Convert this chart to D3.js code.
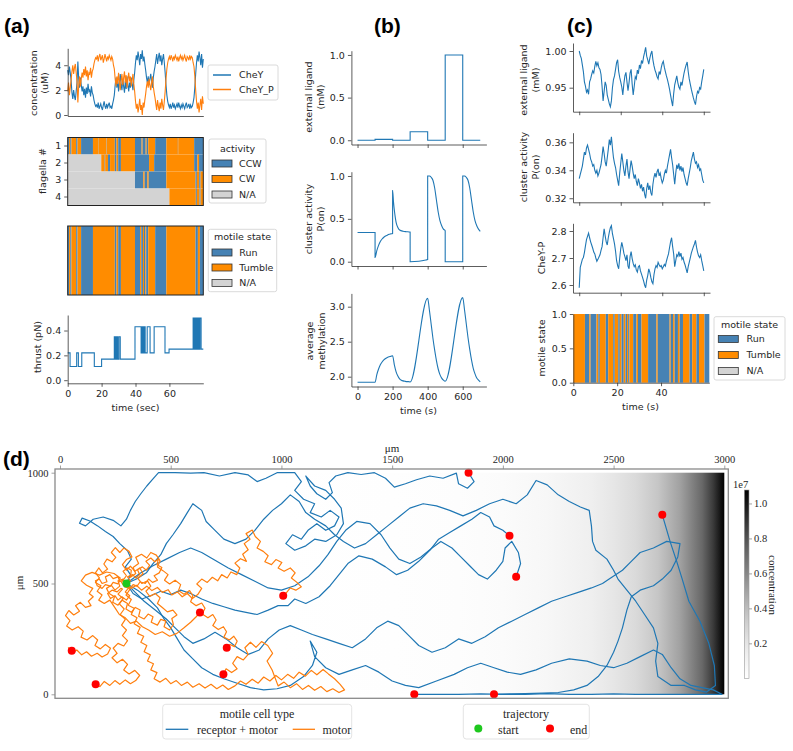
<!DOCTYPE html>
<html><head><meta charset="utf-8">
<script src="https://cdn.jsdelivr.net/npm/d3@7"></script>
<style>body{margin:0;background:#fff;}svg{display:block;}</style>
</head><body>
<svg id="fig" width="793" height="751"></svg>
<script>
// ---------------- DATA ----------------
// (a) concentrations sampled every 0.5 s from 0 to 80 s
const STEP_A = 0.5;
const cheY = [3.6,3.2,3.9,3.4,2.8, 1.8,1.3,2.0,1.5,1.2,1.9, 2.6,4.3,2.9,2.2,3.0,2.4,
 1.9,2.3,1.6,2.1,1.4,2.2,1.7,2.5,1.9,2.0,1.5,2.3,1.8,1.6,
 1.2,0.9,0.7,0.8,0.6,1.0,0.5,0.7,0.9,0.6,0.4,0.8,1.1,0.7,0.5,0.9,0.6,0.8,1.0,0.6,0.7,0.5,0.9,1.2,1.6,
 2.4,3.0,2.2,2.8,1.9,2.6,3.3,2.5,2.0,2.9,2.3,1.8,2.7,2.1,3.1,2.4,1.9,2.6,2.2,3.0,2.5,2.0,2.8,3.4,
 4.2,4.8,4.4,5.1,4.6,4.0,4.9,4.5,5.2,4.3,4.7,4.1,3.6,3.0,
 2.6,3.1,2.4,2.9,3.3,2.7,2.2,3.0,3.5,3.9,
 4.4,4.9,4.1,4.6,5.0,4.3,4.8,4.0,4.5,4.9,4.2,3.4,
 2.4,1.6,1.1,0.8,0.6,0.9,0.5,0.7,1.0,0.6,0.8,0.5,0.7,0.9,0.6,1.0,0.7,0.5,0.8,0.6,0.9,0.7,0.5,0.8,1.0,0.6,0.7,0.9,0.5,0.8,0.6,0.7,1.0,1.4,2.2,
 3.3,4.2,4.8,4.3,5.1,4.6,4.0,4.9,3.8,4.5];
const cheYP = [1.9,2.6,1.6,2.2,2.8, 3.5,4.0,3.3,3.8,4.1,3.4, 2.7,1.0,2.4,3.1,2.3,2.9,
 3.4,3.0,3.7,3.2,3.9,3.1,3.6,2.8,3.4,3.3,3.8,3.0,3.5,3.7,
 4.1,4.4,4.6,4.5,4.8,4.3,4.7,4.9,4.4,4.6,4.8,4.2,4.5,4.9,4.6,4.3,4.7,4.5,4.8,4.6,4.4,4.7,4.5,4.0,3.7,
 2.9,2.3,3.1,2.5,3.4,2.7,2.0,2.8,3.3,2.4,3.0,3.5,2.6,3.2,2.2,2.9,3.4,2.7,3.1,2.3,2.8,3.3,2.5,1.9,
 1.1,0.5,0.9,0.2,0.7,1.3,0.4,0.8,0.0,1.0,0.6,1.2,1.7,2.3,
 2.7,2.2,2.9,2.4,2.0,2.6,3.1,2.3,1.8,1.4,
 0.9,0.4,1.2,0.7,0.3,1.0,0.5,1.3,0.8,0.4,1.1,1.9,
 2.9,3.7,4.2,4.5,4.7,4.4,4.8,4.6,4.3,4.7,4.5,4.8,4.6,4.4,4.7,4.3,4.6,4.8,4.5,4.7,4.4,4.6,4.8,4.5,4.3,4.7,4.6,4.4,4.8,4.5,4.7,4.6,4.2,3.9,3.1,
 2.0,1.1,0.5,1.0,0.2,0.8,1.3,0.4,1.5,0.9];

// (a) flagella activity: [start time, state]
const flagellum1 = [[0,'CCW'],[0.8,'CW'],[1.5,'CCW'],[2.2,'CW'],[5.0,'CCW'],[5.8,'CW'],[7.9,'CCW'],[14.9,'CW'],[17.9,'CCW'],[18.1,'CW'],[22.8,'CCW'],[23.0,'CW'],[27.8,'CCW'],[28.8,'CW'],[29.8,'CCW'],[31.4,'CW'],[39.7,'CCW'],[43.6,'CW'],[44.2,'CCW'],[46.0,'CW'],[46.6,'CCW'],[47.5,'CW'],[51.6,'CCW'],[58.2,'CW'],[65.0,'CCW'],[65.2,'CW'],[74.6,'CCW']];
const flagellum2 = [[0,'N/A'],[19.8,'CW'],[21.8,'CCW'],[22.1,'CW'],[23.8,'CCW'],[25.0,'CW'],[27.8,'CCW'],[28.8,'CW'],[29.8,'CCW'],[31.4,'CW'],[39.7,'CCW'],[48.0,'CW'],[51.0,'CCW'],[58.2,'CW'],[74.6,'CCW'],[76.5,'CW'],[77.5,'CCW']];
const flagellum3 = [[0,'N/A'],[39.7,'CCW'],[44.6,'CW'],[45.4,'CCW'],[47.0,'CW'],[47.8,'CCW'],[58.2,'CW'],[75.4,'CCW'],[76.2,'CW'],[77.6,'CCW'],[78.4,'CW']];
const flagellum4 = [[0,'N/A'],[60.0,'CW'],[75.6,'CCW'],[76.2,'CW'],[77.8,'CCW'],[78.4,'CW']];
const flagellaRows = [1,2,3,4];

// (a) motile state
const motileA = [[0,'Run'],[0.8,'Tumble'],[1.5,'Run'],[2.2,'Tumble'],[5.0,'Run'],[5.8,'Tumble'],[7.9,'Run'],[14.9,'Tumble'],[27.8,'Run'],[28.8,'Tumble'],[29.8,'Run'],[31.4,'Tumble'],[39.7,'Run'],[42.7,'Tumble'],[43.4,'Run'],[44.4,'Tumble'],[45.0,'Run'],[45.8,'Tumble'],[46.3,'Run'],[47.5,'Tumble'],[51.6,'Run'],[58.2,'Tumble'],[75.4,'Run'],[76.8,'Tumble'],[78.0,'Run']];

// (a) thrust step function
const thrustT = [0,1.4,5.3,6.3,8.3,15.7,20.0,27.5,27.9,28.3,28.7,29.1,29.5,30.2,31.0,39.7,43.3,43.6,43.9,44.2,44.5,44.8,45.1,45.4,45.7,46.9,48.6,51.0,57.4,59.8,74.0,74.4,74.8,75.2,75.6,76.0,76.4,76.8,77.2,77.6,78.0,78.7,80];
const thrustV = [0.22,0.11,0.22,0.11,0.22,0.11,0.17,0.35,0.17,0.35,0.17,0.35,0.17,0.35,0.17,0.43,0.22,0.43,0.22,0.43,0.22,0.43,0.22,0.43,0.22,0.43,0.22,0.43,0.22,0.25,0.50,0.25,0.50,0.25,0.50,0.25,0.50,0.25,0.50,0.25,0.50,0.25,0.25];

// (b)
const ligandT = [0,100,200,300,400,500,600,700];
const ligandV = [0,0.01,0,0.1,0,1.0,0,0];
const activityT = [0,100,100,110,120,130,140,150,160,170,180,190,200,200,205,210,215,220,230,240,260,280,300,300,350,390,400,400,410,420,430,440,450,460,470,480,490,500,500,600,600,610,620,630,640,650,660,670,680,690,700];
const activityV = [0.34,0.34,0.05,0.13,0.19,0.235,0.265,0.285,0.30,0.31,0.32,0.325,0.33,0.83,0.70,0.60,0.52,0.46,0.40,0.37,0.355,0.35,0.345,0.0,0.005,0.02,0.025,1.0,1.0,0.985,0.95,0.86,0.72,0.58,0.48,0.42,0.38,0.36,0.0,0.0,1.0,1.0,0.985,0.95,0.86,0.72,0.58,0.48,0.42,0.38,0.355];
const methT = [0,100,110,120,130,140,150,160,170,180,190,200,210,220,230,240,250,260,270,280,290,300,400,410,420,430,440,450,460,470,480,490,500,600,610,620,630,640,650,660,670,680,690,700];
const methV = [1.92,1.92,2.03,2.11,2.17,2.21,2.24,2.26,2.275,2.285,2.29,2.30,2.17,2.07,2.01,1.97,1.95,1.94,1.935,1.93,1.93,1.925,3.12,2.95,2.75,2.55,2.38,2.23,2.11,2.03,1.98,1.95,1.935,3.13,2.96,2.76,2.56,2.39,2.24,2.12,2.04,1.98,1.95,1.925];

// (c) sampled every 0.5 s from 0 to 60 s
const STEP_C = 0.5;
const ligandC = [1.000,0.994,0.990,0.981,0.972,0.958,0.952,0.944,0.947,0.941,0.958,0.962,0.968,0.973,0.970,0.979,0.986,0.980,0.984,0.977,0.975,0.968,0.952,0.932,0.945,0.958,0.953,0.940,0.934,0.928,0.924,0.932,0.950,0.961,0.966,0.975,0.984,0.988,0.972,0.964,0.958,0.951,0.940,0.955,0.966,0.971,0.958,0.946,0.957,0.970,0.975,0.955,0.940,0.952,0.965,0.962,0.974,0.969,0.981,0.976,0.987,0.983,0.992,0.998,1.005,0.993,0.988,0.982,0.990,0.996,1.000,0.988,0.980,0.974,0.970,0.965,0.962,0.972,0.968,0.977,0.983,0.986,0.978,0.972,0.966,0.961,0.955,0.948,0.940,0.932,0.925,0.942,0.954,0.960,0.966,0.957,0.951,0.948,0.958,0.953,0.962,0.970,0.976,0.981,0.985,0.972,0.962,0.955,0.948,0.942,0.936,0.931,0.927,0.938,0.945,0.943,0.950,0.948,0.958,0.966,0.975];
const activityC = [0.334,0.337,0.340,0.343,0.348,0.353,0.351,0.356,0.358,0.355,0.352,0.348,0.346,0.343,0.344,0.340,0.338,0.340,0.336,0.338,0.341,0.344,0.350,0.357,0.352,0.346,0.343,0.349,0.355,0.362,0.358,0.364,0.356,0.349,0.345,0.342,0.337,0.333,0.329,0.338,0.345,0.352,0.346,0.340,0.336,0.343,0.348,0.339,0.334,0.341,0.347,0.343,0.338,0.334,0.337,0.332,0.329,0.334,0.331,0.327,0.330,0.325,0.328,0.323,0.320,0.327,0.331,0.326,0.329,0.324,0.322,0.330,0.335,0.338,0.335,0.339,0.341,0.336,0.338,0.334,0.331,0.333,0.337,0.340,0.338,0.343,0.347,0.351,0.355,0.349,0.344,0.337,0.330,0.338,0.344,0.341,0.345,0.340,0.343,0.339,0.342,0.337,0.334,0.331,0.329,0.334,0.338,0.342,0.347,0.350,0.353,0.348,0.345,0.346,0.342,0.344,0.340,0.341,0.337,0.333,0.331];
const cheYPC = [2.590,2.665,2.680,2.695,2.702,2.720,2.745,2.768,2.780,2.792,2.775,2.760,2.748,2.736,2.722,2.715,2.700,2.688,2.695,2.704,2.712,2.728,2.742,2.775,2.808,2.782,2.760,2.748,2.775,2.796,2.812,2.820,2.790,2.772,2.752,2.725,2.690,2.672,2.660,2.700,2.735,2.758,2.740,2.718,2.705,2.690,2.712,2.670,2.660,2.705,2.724,2.698,2.680,2.668,2.675,2.655,2.648,2.668,2.672,2.652,2.640,2.628,2.615,2.600,2.590,2.618,2.635,2.660,2.648,2.628,2.612,2.605,2.638,2.660,2.672,2.665,2.684,2.675,2.668,2.672,2.660,2.668,2.676,2.670,2.688,2.702,2.715,2.738,2.760,2.775,2.742,2.715,2.668,2.690,2.712,2.706,2.724,2.705,2.718,2.695,2.702,2.685,2.674,2.660,2.645,2.668,2.684,2.700,2.718,2.730,2.742,2.752,2.765,2.740,2.722,2.708,2.702,2.712,2.690,2.672,2.652];
const motileC = [[0,'Tumble'],[5.3,'Run'],[7.3,'Tumble'],[7.9,'Run'],[10.6,'Tumble'],[11.4,'Run'],[12.1,'Tumble'],[14.8,'Run'],[15.9,'Tumble'],[18.2,'Run'],[18.9,'Tumble'],[20.5,'Run'],[21.2,'Tumble'],[22.0,'Run'],[23.0,'Tumble'],[23.8,'Run'],[24.5,'Tumble'],[25.0,'Run'],[25.6,'Tumble'],[27.3,'Run'],[28.8,'Tumble'],[29.5,'Run'],[31.1,'Tumble'],[34.1,'Run'],[37.9,'Tumble'],[38.5,'Run'],[43.9,'Tumble'],[44.4,'Run'],[45.5,'Tumble'],[46.2,'Run'],[47.7,'Tumble'],[48.5,'Run'],[50.0,'Tumble'],[53.0,'Run'],[54.2,'Tumble'],[56.1,'Run'],[57.3,'Tumble'],[59.8,'Run']];

// (d) concentration field along x (µm) in units of 1e7
const fieldX = [0,1000,1500,1800,2000,2200,2400,2500,2600,2700,2800,2900,2950,3000];
const fieldC = [0.0,0.004,0.01,0.02,0.037,0.07,0.13,0.19,0.26,0.36,0.50,0.72,0.88,1.077];
const colorbarTicks = [0.2,0.4,0.6,0.8,1.0];

// (d) trajectories (µm)
const receptorMotor1 = [[300,500],[318,540],[295,575],[322,610],[305,648],[270,680],[240,712],[205,735],[170,760],[135,782],[100,795],[88,772],[115,760],[150,790],[195,800],[240,785],[275,760],[300,790],[318,830],[340,870],[365,905],[392,940],[420,972],[445,1000],[520,1000],[590,998],[650,1000],[720,985],[790,1000],[850,990],[890,960],[930,975],[980,1000],[1060,1000],[1090,960],[1060,920],[1100,880],[1150,860],[1130,820],[1180,800],[1220,830],[1260,800],[1240,760],[1200,740],[1160,770],[1120,740],[1090,700],[1050,720],[1020,680],[1060,650],[1110,670],[1150,700],[1200,690],[1250,720],[1280,770],[1270,840],[1240,880],[1200,920],[1150,940],[1110,985],[1130,940],[1160,905],[1200,880],[1230,910],[1215,955],[1245,985],[1300,1000],[1360,992],[1420,1000],[1470,975],[1510,935],[1560,950],[1610,968],[1670,985],[1730,975],[1790,998],[1800,950],[1840,930],[1870,960],[1845,1000]];
const receptorMotor2 = [[300,500],[345,520],[390,548],[420,590],[455,630],[480,680],[510,720],[545,770],[575,820],[600,860],[640,830],[660,780],[700,740],[740,700],[790,680],[840,700],[880,740],[920,790],[960,830],[1000,860],[1040,900],[1080,870],[1110,820],[1150,790],[1200,760],[1240,720],[1280,690],[1330,660],[1380,680],[1430,720],[1480,760],[1530,800],[1580,840],[1640,860],[1700,850],[1760,830],[1820,805],[1880,830],[1940,860],[2000,880],[2060,860],[2110,900],[2150,965],[2200,945],[2250,900],[2300,870],[2350,845],[2390,830],[2400,760],[2405,690],[2420,650],[2470,610],[2500,560],[2520,520],[2560,470],[2600,420],[2640,360],[2680,300],[2700,230],[2690,150],[2700,80],[2760,40],[2820,40],[2870,20],[2920,10],[2960,40],[2955,130],[2930,230],[2890,330],[2840,420],[2810,520],[2785,600],[2755,690],[2720,810]];
const receptorMotor3 = [[300,500],[350,470],[400,430],[440,390],[470,340],[500,300],[530,250],[560,200],[600,160],[640,120],[690,90],[740,70],[800,50],[860,30],[920,20],[980,25],[1040,40],[1100,80],[1140,130],[1160,190],[1130,240],[1150,170],[1200,120],[1260,90],[1320,110],[1380,130],[1440,100],[1500,60],[1560,40],[1620,30],[1700,60],[1780,90],[1840,120],[1900,140],[1960,120],[2020,100],[2080,90],[2150,110],[2220,140],[2300,160],[2380,150],[2440,130],[2500,120],[2560,140],[2620,170],[2680,200],[2720,180],[2760,120],[2800,70],[2850,40],[2900,30],[2950,20],[2990,0],[2900,0],[2800,0],[2700,0],[2600,0],[2500,2],[2400,0],[2300,0],[2200,3],[2100,0],[2000,0],[1900,2],[1800,0],[1700,0],[1600,0]];
const receptorMotor4 = [[300,500],[330,455],[370,430],[410,445],[455,465],[500,450],[545,470],[590,455],[640,430],[690,410],[740,395],[790,380],[840,370],[890,360],[940,380],[985,400],[1030,400],[1060,430],[1110,410],[1170,440],[1220,490],[1260,540],[1300,590],[1350,625],[1410,610],[1470,575],[1520,540],[1570,560],[1620,600],[1670,650],[1710,700],[1760,730],[1810,760],[1860,790],[1900,820],[1940,800],[1960,760],[2000,740],[2030,715]];
const receptorMotor5 = [[300,500],[360,545],[420,580],[480,610],[540,640],[590,660],[640,640],[700,605],[760,570],[820,540],[880,510],[940,480],[1000,470],[1060,490],[1120,530],[1170,580],[1210,630],[1250,690],[1290,740],[1340,780],[1400,770],[1450,720],[1490,660],[1530,610],[1580,590],[1630,620],[1680,660],[1720,690],[1770,660],[1810,620],[1850,580],[1890,540],[1930,520],[1970,560],[2000,600],[2010,660],[2040,690],[2070,640],[2080,590],[2060,530]];
const receptorMotor6 = [[300,500],[340,460],[380,420],[430,380],[480,340],[520,300],[560,260],[600,230],[650,250],[700,280],[750,250],[800,210],[850,180],[900,200],[940,250],[990,290],[1040,310],[1090,290],[1140,270],[1200,250],[1260,230],[1320,210],[1380,250],[1430,300],[1480,330],[1530,310],[1580,260],[1620,220],[1680,190],[1740,210],[1800,250],[1860,230],[1920,260],[1980,300],[2040,330],[2100,360],[2160,390],[2220,420],[2280,440],[2340,460],[2400,480],[2450,500],[2480,520],[2540,560],[2580,600],[2620,640],[2680,660],[2740,690],[2800,680],[2790,620],[2760,560],[2720,520],[2680,490],[2620,470],[2580,440],[2560,380],[2540,300],[2520,240],[2500,190],[2470,130],[2430,80],[2380,40],[2320,20],[2250,8],[2180,5],[2100,3],[2040,2],[1960,0]];
const motor1 = [[300,500],[322,478],[345,492],[368,470],[392,488],[415,468],[440,482],[462,460],[488,472],[505,448],[530,462],[552,440],[575,455],[598,432],[622,450],[640,478],[618,498],[640,520],[665,505],[688,528],[712,512],[730,540],[755,525],[772,552],[798,540],[812,570],[790,592],[815,612],[842,600],[825,632],[850,652],[832,680],[858,700],[840,725],[868,741],[882,712],[905,690],[890,660],[918,645],[940,625],[925,598],[955,585],[975,608],[1002,595],[985,570],[1012,555],[1040,570],[1062,548],[1045,525],[1070,505],[1090,485],[1065,470],[1040,480],[1022,458],[1008,445]];
const motor2 = [[300,500],[318,512],[305,530],[328,540],[342,525],[360,540],[350,562],[372,575],[390,560],[405,582],[388,600],[410,615],[428,598],[445,612],[438,585],[460,572],[448,548],[425,535],[440,515],[418,505],[400,520],[385,500],[362,508],[348,488],[330,495],[315,478],[292,485],[278,505],[285,520],[262,512],[270,488],[248,470],[232,492],[210,478],[222,455],[246,440],[238,415],[262,402],[280,425],[305,410],[298,385],[322,370],[340,392],[362,380],[355,352],[380,340],[398,362],[420,350],[412,325],[440,312],[455,338],[478,330],[470,305],[495,290],[512,315],[505,342],[528,358],[510,380],[485,372],[462,392],[440,410],[452,436],[430,455],[405,442],[388,465],[410,488],[395,512],[370,500],[352,522],[375,545],[360,570],[338,555],[318,578],[300,560],[282,585],[300,608],[325,620],[312,645],[288,660],[270,640],[250,662],[232,640],[252,618],[235,598],[212,610],[198,588],[215,565],[192,548],[175,570],[160,548],[178,525],[160,505],[185,490],[168,465],[190,448],[175,425],[200,410],[225,425],[250,388],[268,360],[295,345],[318,320],[345,330],[372,305],[400,290],[430,270],[462,282],[495,262],[528,275],[560,300],[590,325],[615,350],[632,369]];
const motor3 = [[300,500],[288,515],[270,508],[262,530],[240,522],[225,540],[205,530],[212,508],[190,500],[178,520],[160,512],[168,490],[190,478],[205,495],[228,488],[240,505],[262,498],[272,525],[244,545],[210,552],[178,538],[145,550],[115,538],[96,512],[120,492],[148,478],[132,455],[150,440],[128,420],[140,400],[115,392],[92,415],[70,400],[88,375],[62,358],[40,378],[25,355],[45,332],[30,308],[55,290],[82,305],[105,285],[95,258],[122,245],[148,265],[170,245],[158,220],[182,205],[205,225],[228,208],[215,182],[190,168],[168,185],[142,172],[120,192],[98,178],[76,200],[55,185],[38,210],[53,196]];
const motor4 = [[300,500],[285,515],[300,535],[285,555],[305,570],[322,560],[318,528],[342,545],[330,572],[355,590],[342,618],[368,632],[392,615],[410,640],[435,628],[452,602],[440,575],[465,558],[488,540],[472,515],[495,498],[520,515],[545,495],[535,468],[560,452],[585,468],[600,445],[590,418],[615,400],[640,412],[655,388],[642,362],[668,345],[690,360],[705,335],[690,310],[715,292],[738,305],[752,282],[740,258],[765,245],[785,262],[800,240],[788,215],[768,225],[753,210]];
const motor5 = [[300,500],[315,472],[298,448],[322,428],[308,402],[335,388],[322,360],[348,345],[335,318],[362,302],[350,275],[378,262],[365,235],[392,220],[380,192],[408,178],[395,150],[422,138],[410,110],[438,98],[425,70],[452,55],[478,72],[500,48],[525,62],[548,40],[575,55],[600,32],[628,48],[655,28],[682,45],[708,25],[735,42],[760,22],[790,38],[815,60],[840,45],[868,68],[895,50],[920,78],[948,60],[975,85],[1000,65],[1028,90],[1055,72],[1080,100],[1108,82],[1135,108],[1160,88],[1188,112],[1212,92],[1240,70],[1265,45],[1285,20],[1260,8],[1232,25],[1205,12],[1178,35],[1150,18],[1122,40],[1095,22],[1068,48],[1040,30],[1012,55],[985,38],[958,110],[935,150],[960,185],[938,220],[910,238],[885,212],[860,235],[835,210],[850,180],[828,155],[800,170],[780,140],[800,115],[775,98],[750,115],[738,90]];
const motor6 = [[300,500],[310,480],[295,462],[315,445],[300,425],[280,440],[262,425],[248,445],[228,432],[215,455],[235,470],[258,462],[275,478],[282,475],[262,452],[285,432],[268,408],[290,385],[272,360],[295,338],[278,312],[300,290],[282,265],[305,242],[288,218],[262,230],[240,208],[258,185],[235,165],[258,142],[282,158],[305,135],[288,110],[312,92],[338,108],[360,85],[342,62],[318,48],[295,65],[270,45],[248,62],[225,40],[200,58],[180,35],[161,45]];
const receptorMotorCells = [receptorMotor1,receptorMotor2,receptorMotor3,receptorMotor4,receptorMotor5,receptorMotor6];
const motorCells = [motor1,motor2,motor3,motor4,motor5,motor6];

// ---------------- STYLE ----------------
const svg = d3.select('#fig');
const SANS = "'DejaVu Sans', sans-serif";
const SERIF = "'Liberation Serif', 'Times New Roman', serif";
const FS = 9.5;
const TXT = '#262626';
const SPINE = '#333';
const C0 = '#1f77b4', C1 = '#ff7f0e';
const stateColor = {CCW:'#4682b4', Run:'#4682b4', CW:'#ff8c00', Tumble:'#ff8c00', 'N/A':'#d3d3d3'};
const LW = 1.1;

function styleAxis(g, font, fs, col) {
  g.attr('font-family', font).attr('font-size', fs);
  g.selectAll('text').attr('fill', TXT);
  g.selectAll('line').attr('stroke', col || SPINE).attr('stroke-width', 0.8);
  g.select('.domain').attr('stroke', col || SPINE).attr('stroke-width', 0.8);
  return g;
}
function label(x, y, txt, o = {}) {
  const t = svg.append('text').attr('x', x).attr('y', y).attr('dy', '0.35em')
    .attr('text-anchor', o.anchor || 'middle').attr('font-family', o.font || SANS)
    .attr('font-size', o.size || FS).attr('fill', o.fill || TXT)
    .attr('font-weight', o.weight || 'normal').text(txt);
  if (o.rot) t.attr('transform', `rotate(${o.rot},${x},${y})`);
  return t;
}
function leftAxis(x, scale, ticks, fmt) {
  const g = svg.append('g').attr('transform', `translate(${x},0)`)
    .call(d3.axisLeft(scale).tickValues(ticks).tickFormat(fmt).tickSize(3.5).tickPadding(3).tickSizeOuter(0));
  return styleAxis(g, SANS, FS);
}
function bottomAxis(y, scale, ticks, fmt) {
  const g = svg.append('g').attr('transform', `translate(0,${y})`)
    .call(d3.axisBottom(scale).tickValues(ticks).tickFormat(fmt).tickSize(3.5).tickPadding(3).tickSizeOuter(0));
  return styleAxis(g, SANS, FS);
}
function segments(list, end) {
  return list.map((d, i) => ({t0: d[0], t1: i < list.length - 1 ? list[i + 1][0] : end, s: d[1]}));
}
function lineLegend(x, y, w, h, items) {
  svg.append('rect').attr('x', x).attr('y', y).attr('width', w).attr('height', h).attr('rx', 2)
    .attr('fill', '#fff').attr('stroke', '#d0d0d0').attr('stroke-width', 0.8);
  items.forEach(it => {
    svg.append('line').attr('x1', x + 5).attr('x2', x + 23).attr('y1', it.y).attr('y2', it.y)
      .attr('stroke', it.c).attr('stroke-width', 1.5);
    label(x + 31, it.y, it.t, {anchor: 'start'});
  });
}
function patchLegend(x, y, w, h, title, titleY, items, patchX, textX) {
  svg.append('rect').attr('x', x).attr('y', y).attr('width', w).attr('height', h).attr('rx', 2)
    .attr('fill', '#fff').attr('stroke', '#d0d0d0').attr('stroke-width', 0.8);
  label(x + w / 2, titleY, title);
  items.forEach(it => {
    svg.append('rect').attr('x', patchX).attr('y', it.y - 3.5).attr('width', 20).attr('height', 7)
      .attr('fill', stateColor[it.t]).attr('stroke', '#333').attr('stroke-width', 0.8);
    label(textX, it.y, it.t, {anchor: 'start'});
  });
}

// ---------------- PANEL LABELS ----------------
const PL = {font: "'Liberation Sans', Arial, sans-serif", size: 21, weight: 'bold', anchor: 'start', fill: '#000'};
label(4, 26, '(a)', PL); label(374, 26, '(b)', PL); label(567, 26, '(c)', PL); label(3, 459, '(d)', PL);

// ---------------- PANEL (a) ----------------
const aX = d3.scaleLinear([0, 80], [67.7, 203.3]);
// concentration
const aYc = d3.scaleLinear([-0.08, 5.36], [116, 48.3]);
const concLine = d3.line().x((d, i) => aX(i * STEP_A)).y(d => aYc(d));
svg.append('path').datum(cheY).attr('d', concLine).attr('fill', 'none').attr('stroke', C0).attr('stroke-width', LW);
svg.append('path').datum(cheYP).attr('d', concLine).attr('fill', 'none').attr('stroke', C1).attr('stroke-width', LW);
leftAxis(67.7, aYc, [0, 2, 4], d3.format('d'));
bottomAxis(116, aX, [], '');
label(33.5, 83, 'concentration', {rot: -90});
label(45, 83, '(uM)', {rot: -90});
lineLegend(208, 65, 70, 35, [{y: 75, c: C0, t: 'CheY'}, {y: 89.5, c: C1, t: 'CheY_P'}]);

// flagella
const aYf = d3.scaleBand(flagellaRows, [137.5, 205.5]);
const flagData = [flagellum1, flagellum2, flagellum3, flagellum4];
flagData.forEach((row, i) => {
  svg.append('g').selectAll('rect').data(segments(row, 80)).join('rect')
    .attr('x', d => aX(d.t0)).attr('width', d => Math.max(0.3, aX(d.t1) - aX(d.t0)))
    .attr('y', aYf(flagellaRows[i])).attr('height', aYf.bandwidth())
    .attr('fill', d => stateColor[d.s]);
});
svg.append('rect').attr('x', 67.7).attr('y', 137.5).attr('width', 135.6).attr('height', 68)
  .attr('fill', 'none').attr('stroke', '#222').attr('stroke-width', 1);
{
  const g = svg.append('g').attr('transform', 'translate(67.7,0)')
    .call(d3.axisLeft(aYf).tickSize(3.5).tickPadding(3).tickSizeOuter(0));
  styleAxis(g, SANS, FS); g.select('.domain').remove();
}
label(43, 171, 'flagella #', {rot: -90});
patchLegend(209, 139, 57, 64, 'activity', 148.5,
  [{y: 163.5, t: 'CCW'}, {y: 179, t: 'CW'}, {y: 194.5, t: 'N/A'}], 212, 239);

// motile state (a)
svg.append('g').selectAll('rect').data(segments(motileA, 80)).join('rect')
  .attr('x', d => aX(d.t0)).attr('width', d => Math.max(0.3, aX(d.t1) - aX(d.t0)))
  .attr('y', 226).attr('height', 69).attr('fill', d => stateColor[d.s]);
svg.append('rect').attr('x', 67.7).attr('y', 226).attr('width', 135.6).attr('height', 69)
  .attr('fill', 'none').attr('stroke', '#222').attr('stroke-width', 1);
patchLegend(208.3, 229.3, 68.4, 62.4, 'motile state', 237,
  [{y: 252.5, t: 'Run'}, {y: 267.5, t: 'Tumble'}, {y: 283, t: 'N/A'}], 212, 239.3);

// thrust
const aYt = d3.scaleLinear([-0.025, 0.525], [383.3, 315]);
svg.append('path').datum(thrustT.map((t, i) => [t, thrustV[i]]))
  .attr('d', d3.line().curve(d3.curveStepAfter).x(d => aX(d[0])).y(d => aYt(d[1])))
  .attr('fill', 'none').attr('stroke', C0).attr('stroke-width', LW);
leftAxis(67.7, aYt, [0, 0.2, 0.4], d3.format('.1f'));
bottomAxis(383.3, aX, [0, 20, 40, 60], d3.format('d'));
label(38, 347, 'thrust (pN)', {rot: -90});
label(135.5, 408, 'time (sec)');

// ---------------- PANEL (b) ----------------
const bX = d3.scaleLinear([-35, 735], [351.4, 486.4]);
const bTicks = [0, 200, 400, 600];
const bYl = d3.scaleLinear([-0.05, 1.05], [144.5, 50.7]);
svg.append('path').datum(ligandT.map((t, i) => [t, ligandV[i]]))
  .attr('d', d3.line().curve(d3.curveStepAfter).x(d => bX(d[0])).y(d => bYl(d[1])))
  .attr('fill', 'none').attr('stroke', C0).attr('stroke-width', LW);
leftAxis(351.4, bYl, [0, 0.5, 1.0], d3.format('.1f'));
bottomAxis(144.5, bX, bTicks, '');
label(309, 97, 'external ligand', {rot: -90});
label(321, 97, '(mM)', {rot: -90});
const bYa = d3.scaleLinear([-0.05, 1.05], [266, 171.7]);
svg.append('path').datum(activityT.map((t, i) => [t, activityV[i]]))
  .attr('d', d3.line().curve(d3.curveMonotoneX).x(d => bX(d[0])).y(d => bYa(d[1])))
  .attr('fill', 'none').attr('stroke', C0).attr('stroke-width', LW);
leftAxis(351.4, bYa, [0, 0.5, 1.0], d3.format('.1f'));
bottomAxis(266, bX, bTicks, '');
label(309, 219, 'cluster activity', {rot: -90});
label(321, 219, 'P(on)', {rot: -90});
const bYm = d3.scaleLinear([1.86, 3.19], [386.5, 293.4]);
svg.append('path').datum(methT.map((t, i) => [t, methV[i]]))
  .attr('d', d3.line().curve(d3.curveMonotoneX).x(d => bX(d[0])).y(d => bYm(d[1])))
  .attr('fill', 'none').attr('stroke', C0).attr('stroke-width', LW);
leftAxis(351.4, bYm, [2.0, 2.5, 3.0], d3.format('.1f'));
bottomAxis(386.5, bX, bTicks, d3.format('d'));
label(310, 341, 'average', {rot: -90});
label(321.5, 341, 'methylation', {rot: -90});
label(418.5, 411, 'time (s)');

// ---------------- PANEL (c) ----------------
const cX = d3.scaleLinear([-3, 63], [573, 710]);
const cTicks = [0, 20, 40, 60];
function cLine(data, yScale) {
  svg.append('path').datum(data)
    .attr('d', d3.line().x((d, i) => cX(i * STEP_C)).y(d => yScale(d)))
    .attr('fill', 'none').attr('stroke', C0).attr('stroke-width', LW);
}
const cYl = d3.scaleLinear([0.9173, 1.0109], [111.7, 43]);
cLine(ligandC, cYl);
leftAxis(573, cYl, [0.95, 1.00], d3.format('.2f'));
bottomAxis(111.7, cX, cTicks, '');
label(524, 80, 'external ligand', {rot: -90});
label(536, 80, '(mM)', {rot: -90});

const cYa = d3.scaleLinear([0.3171, 0.3669], [202.3, 132.7]);
cLine(activityC, cYa);
leftAxis(573, cYa, [0.32, 0.34, 0.36], d3.format('.2f'));
bottomAxis(202.3, cX, cTicks, '');
label(524, 167, 'cluster activity', {rot: -90});
label(536, 167, 'P(on)', {rot: -90});

const cYc = d3.scaleLinear([2.5715, 2.8285], [292.7, 223.3]);
cLine(cheYPC, cYc);
leftAxis(573, cYc, [2.6, 2.7, 2.8], d3.format('.1f'));
bottomAxis(292.7, cX, cTicks, '');
label(541.5, 258, 'CheY-P', {rot: -90});

const cXm = d3.scaleLinear([0, 62], [573.3, 709.3]);
const cYm = d3.scaleLinear([0, 1], [382.7, 314]);
svg.append('g').selectAll('rect').data(segments(motileC, 62)).join('rect')
  .attr('x', d => cXm(d.t0)).attr('width', d => Math.max(0.3, cXm(d.t1) - cXm(d.t0)))
  .attr('y', cYm(1)).attr('height', cYm(0) - cYm(1)).attr('fill', d => stateColor[d.s]);
leftAxis(573.3, cYm, [0, 0.5, 1.0], d3.format('.1f'));
bottomAxis(382.7, cXm, [0, 20, 40], d3.format('d'));
label(541.5, 348, 'motile state', {rot: -90});
label(640.5, 407, 'time (s)');
patchLegend(714, 316.7, 71, 63.3, 'motile state', 324.5,
  [{y: 339, t: 'Run'}, {y: 355, t: 'Tumble'}, {y: 371, t: 'N/A'}], 718.3, 746.5);

// ---------------- PANEL (d) ----------------
const dX = d3.scaleLinear([0, 3000], [60, 724.3]);
const dY = d3.scaleLinear([0, 1000], [694.3, 472.7]);
const CMAX = fieldC[fieldC.length - 1];
const defs = svg.append('defs');
const hg = defs.append('linearGradient').attr('id', 'field').attr('x1', 0).attr('x2', 1).attr('y1', 0).attr('y2', 0);
fieldX.forEach((x, i) => hg.append('stop').attr('offset', x / 3000).attr('stop-color', d3.interpolateGreys(fieldC[i] / CMAX)));
svg.append('rect').attr('x', dX(0)).attr('y', dY(1000)).attr('width', dX(3000) - dX(0)).attr('height', dY(0) - dY(1000))
  .attr('fill', 'url(#field)');
defs.append('clipPath').attr('id', 'dclip').append('rect').attr('x', 55).attr('y', 469).attr('width', 673.3).attr('height', 229.3);

const dLine = d3.line().x(d => dX(d[0])).y(d => dY(d[1]));
const tg = svg.append('g').attr('clip-path', 'url(#dclip)');
receptorMotorCells.forEach(c => tg.append('path').datum(c).attr('d', dLine).attr('fill', 'none')
  .attr('stroke', C0).attr('stroke-width', 1.2).attr('stroke-linejoin', 'round'));
motorCells.forEach(c => tg.append('path').datum(c).attr('d', dLine).attr('fill', 'none')
  .attr('stroke', C1).attr('stroke-width', 1.2).attr('stroke-linejoin', 'round'));
receptorMotorCells.concat(motorCells).forEach(c => {
  const e = c[c.length - 1];
  svg.append('circle').attr('cx', dX(e[0])).attr('cy', dY(e[1])).attr('r', 4).attr('fill', '#ff0000');
});
svg.append('circle').attr('cx', dX(receptorMotor1[0][0])).attr('cy', dY(receptorMotor1[0][1])).attr('r', 4).attr('fill', '#1ec81e');

svg.append('rect').attr('x', 55).attr('y', 469).attr('width', 673.3).attr('height', 229.3)
  .attr('fill', 'none').attr('stroke', '#8a8a8a').attr('stroke-width', 1.3);
{
  const g = svg.append('g').attr('transform', 'translate(0,469)')
    .call(d3.axisTop(dX).tickValues([0, 500, 1000, 1500, 2000, 2500, 3000]).tickFormat(d3.format('d')).tickSize(3.5).tickPadding(3).tickSizeOuter(0));
  styleAxis(g, SERIF, 10.5, '#8a8a8a'); g.select('.domain').remove();
  const g2 = svg.append('g').attr('transform', 'translate(55,0)')
    .call(d3.axisLeft(dY).tickValues([0, 500, 1000]).tickFormat(d3.format('d')).tickSize(3.5).tickPadding(3).tickSizeOuter(0));
  styleAxis(g2, SERIF, 10.5, '#8a8a8a'); g2.select('.domain').remove();
}
label(392, 448, 'μm', {font: SERIF, size: 11});
label(19, 583, 'μm', {font: SERIF, size: 11, rot: -90});

// colorbar
const cb = d3.scaleLinear([0, CMAX], [678.3, 490]);
const vg = defs.append('linearGradient').attr('id', 'cbar').attr('x1', 0).attr('x2', 0).attr('y1', 1).attr('y2', 0);
d3.range(0, 1.0001, 0.05).forEach(f => vg.append('stop').attr('offset', f).attr('stop-color', d3.interpolateGreys(f)));
svg.append('rect').attr('x', 744.3).attr('y', 490).attr('width', 4.7).attr('height', 188.3)
  .attr('fill', 'url(#cbar)').attr('stroke', '#999').attr('stroke-width', 0.6);
{
  const g = svg.append('g').attr('transform', 'translate(749,0)')
    .call(d3.axisRight(cb).tickValues(colorbarTicks).tickFormat(d3.format('.1f')).tickSize(3).tickPadding(2).tickSizeOuter(0));
  styleAxis(g, SERIF, 10.5, '#8a8a8a'); g.select('.domain').remove();
}
label(733, 484, '1e7', {font: SERIF, size: 10.5, anchor: 'start'});
label(773, 585, 'concentration', {font: SERIF, size: 11, rot: 90});

// legends (d)
svg.append('rect').attr('x', 162.7).attr('y', 704.3).attr('width', 189).attr('height', 34.7).attr('rx', 3)
  .attr('fill', '#fff').attr('stroke', '#dcdcdc').attr('stroke-width', 0.8);
label(257, 714, 'motile cell type', {font: SERIF, size: 12});
svg.append('line').attr('x1', 165.7).attr('x2', 188.3).attr('y1', 729.3).attr('y2', 729.3).attr('stroke', C0).attr('stroke-width', 1.3);
label(197, 729.3, 'receptor + motor', {font: SERIF, size: 12, anchor: 'start'});
svg.append('line').attr('x1', 292.7).attr('x2', 315).attr('y1', 729.3).attr('y2', 729.3).attr('stroke', C1).attr('stroke-width', 1.3);
label(322.5, 729.3, 'motor', {font: SERIF, size: 12, anchor: 'start'});

svg.append('rect').attr('x', 463.3).attr('y', 704.3).attr('width', 126).attr('height', 34.7).attr('rx', 3)
  .attr('fill', '#fff').attr('stroke', '#dcdcdc').attr('stroke-width', 0.8);
label(526, 714, 'trajectory', {font: SERIF, size: 12});
svg.append('circle').attr('cx', 478.3).attr('cy', 728.5).attr('r', 4).attr('fill', '#1ec81e');
label(498, 729.3, 'start', {font: SERIF, size: 12, anchor: 'start'});
svg.append('circle').attr('cx', 550).attr('cy', 728.5).attr('r', 4).attr('fill', '#ff0000');
label(570, 729.3, 'end', {font: SERIF, size: 12, anchor: 'start'});
</script>
</body></html>
